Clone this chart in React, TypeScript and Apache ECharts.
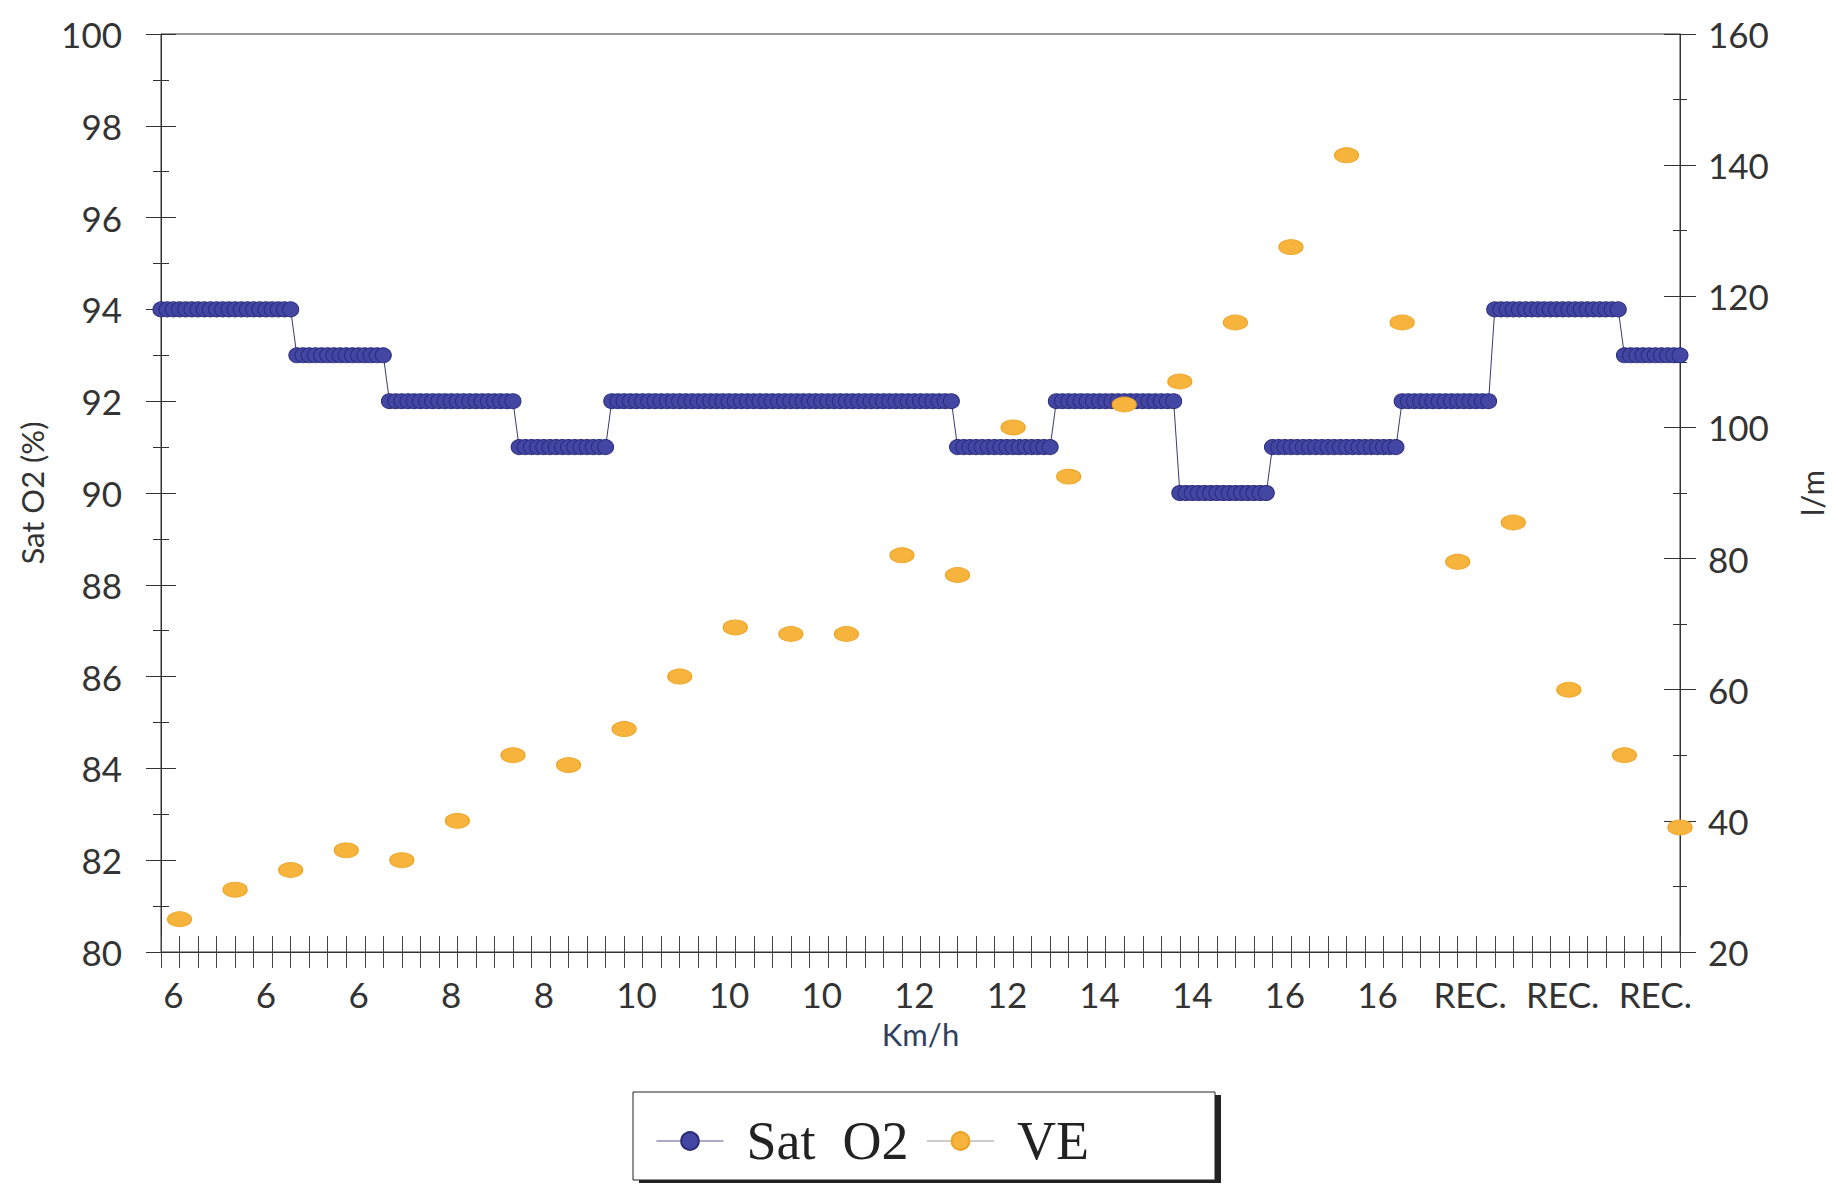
import React, { useEffect, useRef } from "react";
import * as echarts from "echarts";

// Sat O2 (%) readings, one per sample (left axis)
const satO2: number[] = [
  94, 94, 94, 94, 94, 94, 94, 94, 94, 94, 94, 94, 94, 94, 94, 94, 94, 94, 94, 94, 94, 94,
  93, 93, 93, 93, 93, 93, 93, 93, 93, 93, 93, 93, 93, 93, 93,
  92, 92, 92, 92, 92, 92, 92, 92, 92, 92, 92, 92, 92, 92, 92, 92, 92, 92, 92, 92, 92,
  91, 91, 91, 91, 91, 91, 91, 91, 91, 91, 91, 91, 91, 91, 91,
  92, 92, 92, 92, 92, 92, 92, 92, 92, 92, 92, 92, 92, 92, 92, 92, 92, 92, 92, 92,
  92, 92, 92, 92, 92, 92, 92, 92, 92, 92, 92, 92, 92, 92, 92, 92, 92, 92, 92, 92,
  92, 92, 92, 92, 92, 92, 92, 92, 92, 92, 92, 92, 92, 92, 92, 92,
  91, 91, 91, 91, 91, 91, 91, 91, 91, 91, 91, 91, 91, 91, 91, 91,
  92, 92, 92, 92, 92, 92, 92, 92, 92, 92, 92, 92, 92, 92, 92, 92, 92, 92, 92, 92,
  90, 90, 90, 90, 90, 90, 90, 90, 90, 90, 90, 90, 90, 90, 90,
  91, 91, 91, 91, 91, 91, 91, 91, 91, 91, 91, 91, 91, 91, 91, 91, 91, 91, 91, 91, 91,
  92, 92, 92, 92, 92, 92, 92, 92, 92, 92, 92, 92, 92, 92, 92,
  94, 94, 94, 94, 94, 94, 94, 94, 94, 94, 94, 94, 94, 94, 94, 94, 94, 94, 94, 94, 94,
  93, 93, 93, 93, 93, 93, 93, 93, 93, 93,
];

// VE (l/m) readings (right axis), one every VE_EVERY samples starting at VE_START
const veValues: number[] = [
  25, 29.5, 32.5, 35.5, 34, 40, 50, 48.5, 54, 62, 69.5, 68.5, 68.5, 80.5,
  77.5, 100, 92.5, 103.5, 107, 116, 127.5, 141.5, 116, 79.5, 85.5, 60, 50, 39,
];
const VE_START = 3;
const VE_EVERY = 9;

// Speed labels shown along the x axis (Km/h)
const xTickLabels: string[] = [
  "6", "6", "6", "8", "8", "10", "10", "10", "12", "12", "14", "14", "16", "16", "REC.", "REC.", "REC.",
];
const LABEL_START = 2;
const LABEL_EVERY = 15;
const TICK_EVERY = 3;

const sampleCategories: string[] = satO2.map((_, i) => String(i));

const AXIS_COLOR = "#333";
const LABEL_FONT = "Lato";

export default function App() {
  const ref = useRef<HTMLDivElement>(null);

  useEffect(() => {
    if (!ref.current) return;
    const chart = echarts.init(ref.current, null, { renderer: "svg" });

    const veData = veValues.map((v, i) => [VE_START + i * VE_EVERY, v]);

    const tickInterval = (index: number) => index % TICK_EVERY === 0;
    const labelInterval = (index: number) =>
      index >= LABEL_START && (index - LABEL_START) % LABEL_EVERY === 0;

    const yCommonLeft = {
      type: "value",
      min: 80,
      max: 100,
      interval: 2,
      splitLine: { show: false },
    };
    const yCommonRight = {
      type: "value",
      min: 20,
      max: 160,
      interval: 20,
      splitLine: { show: false },
    };

    chart.setOption({
      animation: false,
      backgroundColor: "#ffffff",
      grid: {
        left: 161,
        right: 166,
        top: 34,
        bottom: 233,
        show: true,
        borderColor: AXIS_COLOR,
        borderWidth: 1,
        backgroundColor: "transparent",
      },
      xAxis: [
        {
          type: "category",
          data: sampleCategories,
          boundaryGap: false,
          position: "bottom",
          name: "Km/h",
          nameLocation: "middle",
          nameGap: 66,
          nameTextStyle: { fontFamily: LABEL_FONT, fontSize: 31, color: "#2f3f5f" },
          axisLine: { show: true, lineStyle: { color: AXIS_COLOR, width: 1 } },
          axisTick: {
            show: true,
            interval: tickInterval,
            length: 16,
            inside: false,
            lineStyle: { color: "#444", width: 1 },
          },
          axisLabel: {
            show: true,
            interval: labelInterval,
            margin: 24,
            fontFamily: LABEL_FONT,
            fontSize: 35,
            color: AXIS_COLOR,
            formatter: (_v: string, index: number) =>
              xTickLabels[Math.round((index - LABEL_START) / LABEL_EVERY)] ?? "",
          },
          splitLine: { show: false },
        },
        {
          type: "category",
          data: sampleCategories,
          boundaryGap: false,
          position: "bottom",
          axisLine: { show: false },
          axisTick: {
            show: true,
            interval: tickInterval,
            length: 16,
            inside: true,
            lineStyle: { color: "#444", width: 1 },
          },
          axisLabel: { show: false },
          splitLine: { show: false },
        },
      ],
      yAxis: [
        {
          ...yCommonLeft,
          position: "left",
          name: "Sat O2 (%)",
          nameLocation: "middle",
          nameGap: 114,
          nameRotate: 90,
          nameTextStyle: { fontFamily: LABEL_FONT, fontSize: 31, color: AXIS_COLOR },
          axisLine: { show: true, lineStyle: { color: AXIS_COLOR, width: 1 } },
          axisTick: { show: true, length: 15, inside: false, lineStyle: { color: AXIS_COLOR } },
          minorTick: { show: true, splitNumber: 2, length: 8, lineStyle: { color: AXIS_COLOR } },
          axisLabel: { margin: 39, fontFamily: LABEL_FONT, fontSize: 35, color: AXIS_COLOR },
        },
        {
          ...yCommonRight,
          position: "right",
          name: "l/m",
          nameLocation: "middle",
          nameGap: 116,
          nameRotate: 90,
          nameTextStyle: { fontFamily: LABEL_FONT, fontSize: 31, color: AXIS_COLOR },
          axisLine: { show: true, lineStyle: { color: AXIS_COLOR, width: 1 } },
          axisTick: { show: true, length: 16, inside: false, lineStyle: { color: AXIS_COLOR } },
          minorTick: { show: true, splitNumber: 2, length: 7, lineStyle: { color: AXIS_COLOR } },
          axisLabel: { margin: 28, fontFamily: LABEL_FONT, fontSize: 35, color: AXIS_COLOR },
        },
        {
          ...yCommonLeft,
          position: "left",
          axisLine: { show: false },
          axisTick: { show: true, length: 15, inside: true, lineStyle: { color: AXIS_COLOR } },
          minorTick: { show: true, splitNumber: 2, length: 8, lineStyle: { color: AXIS_COLOR } },
          axisLabel: { show: false },
        },
        {
          ...yCommonRight,
          position: "right",
          axisLine: { show: false },
          axisTick: { show: true, length: 16, inside: true, lineStyle: { color: AXIS_COLOR } },
          minorTick: { show: true, splitNumber: 2, length: 7, lineStyle: { color: AXIS_COLOR } },
          axisLabel: { show: false },
        },
      ],
      legend: {
        left: 651,
        top: 1109,
        orient: "horizontal",
        itemWidth: 67,
        itemHeight: 22,
        itemGap: 18,
        z: 10,
        textStyle: {
          fontFamily: "Liberation Serif",
          fontSize: 54,
          color: "#222",
          padding: [0, 0, 0, 18],
        },
        formatter: (name: string) => (name === "Sat O2" ? "Sat  O2" : name),
        data: [
          { name: "Sat O2", lineStyle: { color: "#55578a", width: 1, opacity: 1 } },
          { name: "VE", lineStyle: { color: "#999", width: 1, opacity: 1 } },
        ],
      },
      graphic: [
        {
          type: "rect",
          z: 1,
          shape: { x: 639, y: 1095, width: 582, height: 88 },
          style: { fill: "#222" },
        },
        {
          type: "rect",
          z: 2,
          shape: { x: 633, y: 1092, width: 582, height: 88 },
          style: { fill: "#ffffff", stroke: "#222", lineWidth: 1 },
        },
      ],
      series: [
        {
          name: "Sat O2",
          type: "line",
          xAxisIndex: 0,
          yAxisIndex: 0,
          data: satO2,
          showAllSymbol: true,
          symbol: "circle",
          symbolSize: [16, 15],
          itemStyle: { color: "#4346a3", borderColor: "#2a2c7a", borderWidth: 1 },
          lineStyle: { color: "#3a3c70", width: 1 },
          z: 3,
        },
        {
          name: "VE",
          type: "line",
          xAxisIndex: 0,
          yAxisIndex: 1,
          data: veData,
          showAllSymbol: true,
          symbol: "circle",
          symbolSize: [24, 15],
          itemStyle: { color: "#f7b43c", borderColor: "#eda224", borderWidth: 1 },
          lineStyle: { opacity: 0 },
          z: 4,
        },
      ],
    });

    return () => chart.dispose();
  }, []);

  return (
    <div
      ref={ref}
      style={{ position: "absolute", left: 0, top: 0, width: 1846, height: 1185 }}
    />
  );
}
